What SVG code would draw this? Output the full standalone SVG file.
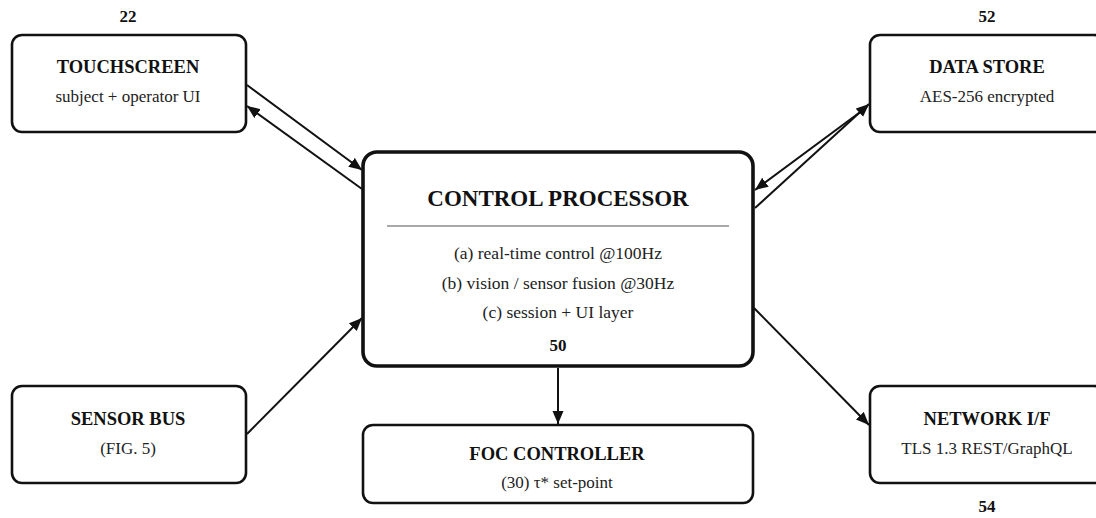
<svg xmlns="http://www.w3.org/2000/svg" width="1096" height="518" viewBox="0 0 1096 518">
<style>
.box{fill:#fff;stroke:#111;stroke-width:2.6}
.main{fill:#fff;stroke:#111;stroke-width:3.6}
.t{font-family:"Liberation Serif",serif;font-weight:bold;font-size:18.5px;fill:#111;text-anchor:middle}
.s{font-family:"Liberation Serif",serif;font-size:17px;fill:#222;text-anchor:middle}
.ref{font-family:"Liberation Serif",serif;font-weight:bold;font-size:17px;fill:#111;text-anchor:middle}
.big{font-family:"Liberation Serif",serif;font-weight:bold;font-size:23px;fill:#111;text-anchor:middle}
.c{stroke:#111;stroke-width:2;fill:none;marker-end:url(#ah)}
</style>
<defs>
<marker id="ah" markerUnits="userSpaceOnUse" markerWidth="14" markerHeight="12" refX="13" refY="5.5" orient="auto">
<path d="M0,0 L13,5.5 L0,11 z" fill="#111"/>
</marker>
</defs>
<g id="connectors">
<line class="c" x1="247" y1="85" x2="362" y2="170"/>
<line class="c" x1="362" y1="189" x2="247" y2="106"/>
<line class="c" x1="755" y1="208" x2="869" y2="104"/>
<line class="c" x1="867" y1="107" x2="755" y2="190"/>
<line class="c" x1="247" y1="434" x2="362" y2="318"/>
<line class="c" x1="754" y1="308" x2="869" y2="425"/>
<line class="c" x1="558" y1="368" x2="558" y2="424"/>
</g>
<g id="touchscreen">
<rect class="box" x="12" y="35" width="234" height="97" rx="10"/>
<text class="ref" x="128" y="22">22</text>
<text class="t" x="128" y="73">TOUCHSCREEN</text>
<text class="s" x="128" y="102">subject + operator UI</text>
</g>
<g id="datastore">
<rect class="box" x="870" y="35" width="234" height="97" rx="10"/>
<text class="ref" x="987" y="22">52</text>
<text class="t" x="987" y="73">DATA STORE</text>
<text class="s" x="987" y="102">AES-256 encrypted</text>
</g>
<g id="control-processor">
<rect class="main" x="363" y="152" width="390" height="214" rx="14"/>
<text class="big" x="558" y="206">CONTROL PROCESSOR</text>
<line x1="387" y1="226" x2="729" y2="226" stroke="#555" stroke-width="1.2"/>
<text class="s" x="558" y="259" style="font-size:17.5px">(a) real-time control @100Hz</text>
<text class="s" x="558" y="289" style="font-size:17.5px">(b) vision / sensor fusion @30Hz</text>
<text class="s" x="558" y="318" style="font-size:17.5px">(c) session + UI layer</text>
<text class="ref" x="558" y="351">50</text>
</g>
<g id="sensor-bus">
<rect class="box" x="12" y="386" width="234" height="97" rx="10"/>
<text class="t" x="128" y="425">SENSOR BUS</text>
<text class="s" x="128" y="454">(FIG. 5)</text>
</g>
<g id="foc-controller">
<rect class="box" x="363" y="425" width="390" height="78" rx="10"/>
<text class="t" x="557" y="460">FOC CONTROLLER</text>
<text class="s" x="557" y="488">(30) τ* set-point</text>
</g>
<g id="network">
<rect class="box" x="870" y="386" width="234" height="97" rx="10"/>
<text class="t" x="987" y="425">NETWORK I/F</text>
<text class="s" x="987" y="454">TLS 1.3 REST/GraphQL</text>
<text class="ref" x="987" y="512">54</text>
</g>
</svg>
